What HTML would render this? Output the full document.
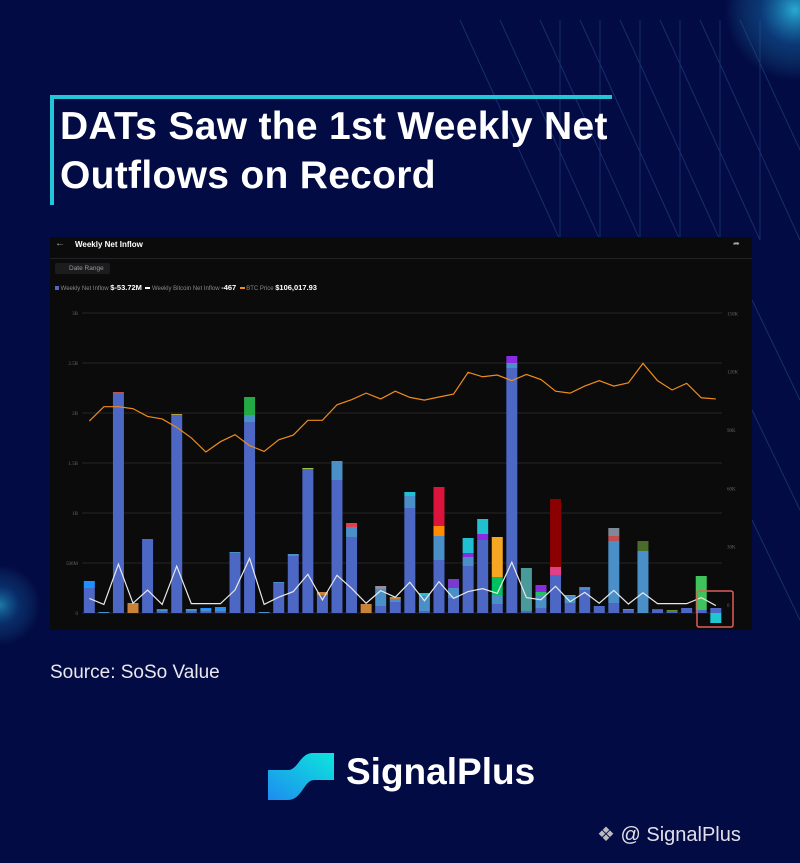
<!DOCTYPE html>
<html><head><meta charset="utf-8"><style>
html,body{margin:0;padding:0}
body{width:800px;height:863px;overflow:hidden;position:relative;background:#040c45;font-family:"Liberation Sans",sans-serif}
.abs{position:absolute}
</style></head><body>
<svg class="abs" style="left:0;top:0" width="800" height="863">
<defs>
<radialGradient id="g1" cx="0.5" cy="0.5" r="0.5"><stop offset="0" stop-color="#2fc6ea" stop-opacity="0.85"/><stop offset="0.5" stop-color="#1a8ad0" stop-opacity="0.35"/><stop offset="1" stop-color="#2fc6ea" stop-opacity="0"/></radialGradient>
</defs>
<rect width="800" height="863" fill="#030b44"/>
<circle cx="795" cy="10" r="70" fill="url(#g1)"/>
<circle cx="0" cy="605" r="40" fill="url(#g1)" opacity="0.7"/>
<g stroke="#2a5a9a" stroke-width="1" opacity="0.45" fill="none">
<path d="M460 20 L560 240 M500 20 L600 240 M540 20 L640 240 M580 20 L680 240 M620 20 L720 240 M660 20 L760 240 M700 20 L800 240 M740 20 L800 150"/>
<path d="M560 20 V240 M600 20 V240 M640 20 V240 M680 20 V240 M720 20 V240 M760 20 V240"/>
<path d="M752 300 L800 400 M752 410 L800 510 M752 520 L800 620"/>
</g>
<path d="M52 205 V97 H612" stroke="#22c6d6" stroke-width="4" fill="none"/>
</svg>
<div class="abs" style="left:60px;top:102px;color:#fff;font-weight:bold;font-size:39px;line-height:49px;letter-spacing:0.3px">DATs Saw the 1st Weekly Net<br>Outflows on Record</div>

<div class="abs" style="left:50px;top:237px;width:702px;height:393px;background:#0b0b0c"></div>
<div class="abs" style="left:55px;top:238px;color:#aaa;font-size:10px">←</div>
<div class="abs" style="left:75px;top:240px;color:#fff;font-size:8px;font-weight:bold">Weekly Net Inflow</div>
<div class="abs" style="left:733px;top:239px;color:#aaa;font-size:8px">➦</div>
<div class="abs" style="left:50px;top:258px;width:702px;height:1px;background:#222"></div>
<div class="abs" style="left:55px;top:263px;width:55px;height:11px;background:#1c1c1e;border-radius:2px;color:#999;font-size:6.5px;line-height:11px;text-indent:14px">Date Range</div>
<div class="abs" style="left:55px;top:283px;color:#888;font-size:6px;white-space:nowrap">
<span><span style="display:inline-block;width:4px;height:4px;background:#4d67c4"></span> Weekly Net Inflow <b style="color:#fff;font-size:7.5px">$-53.72M</b></span>
&nbsp;<span><span style="display:inline-block;width:5px;height:2px;background:#fff;vertical-align:middle"></span> Weekly Bitcoin Net Inflow <b style="color:#fff;font-size:7.5px">-467</b></span>
&nbsp;<span><span style="display:inline-block;width:5px;height:2px;background:#f08c1a;vertical-align:middle"></span> BTC Price <b style="color:#fff;font-size:7.5px">$106,017.93</b></span>
</div>

<svg id="chart" class="abs" style="left:0;top:0" width="800" height="863"></svg>
<script>
const leftTicks=[0,0.5,1,1.5,2,2.5,3];
const leftTickLabels=["0","500M","1B","1.5B","2B","2.5B","3B"];
const rightTicks=[0,30,60,90,120,150];
const rightTickLabels=["0","30K","60K","90K","120K","150K"];
const baseVals=[.25,0,2.19,0,.74,.02,1.98,.02,.02,.02,.6,1.91,0,.30,.57,1.44,.18,1.33,.76,0,.07,.11,1.05,.02,.53,.15,.47,.73,.09,2.45,.02,.05,.38,.1,.23,.07,.1,.03,0,.03,.02,.05,.03,.05];
const lightVals=[0,.01,0,0,0,.01,0,.02,.02,.02,0,.07,.01,.01,.01,0,0,.19,.1,0,.17,.03,.12,.15,.24,.1,.09,0,.09,.05,0,.12,0,.07,.02,0,.62,0,.62,0,0,0,0,0];
const seg3Vals=[.07,0,.02,.1,0,.01,.01,0,.01,.02,.01,.18,0,0,.01,.01,.03,0,.04,.09,.03,.02,.04,.03,.1,.09,.04,.06,.18,.07,.43,.04,.08,.01,.01,0,.05,.01,.1,.01,.01,0,.34,0];
const seg3Colors=["#1e90ff","#fff","#c0504d","#c8833a","#fff","#c0504d","#b5a040","#fff","#1e90ff","#1e90ff","#4a8fc7","#22aa44","#fff","#fff","#4a8fc7","#a0c040","#c8833a","#fff","#e04050","#c8833a","#9090a0","#c8833a","#20c0d0","#20c0d0","#ff8c00","#7a3ad0","#8a2be2","#8a2be2","#00c060","#8a2be2","#4a9a9a","#20c060","#e0408a","#c8833a","#e0408a","#fff","#c05050","#4a8fc7","#4a6b2a","#8a2be2","#6b8e23","#fff","#3ec45a","#fff"];
const seg4Vals=[0,0,0,0,0,0,0,0,0,0,0,0,0,0,0,0,0,0,0,0,0,0,0,0,.39,0,.15,.15,.4,0,0,.07,.68,0,0,0,.08,0,0,0,0,0,0,0];
const seg4Colors=["","","","","","","","","","","","","","","","","","","","","","","","","#dc143c","","#20c0d0","#20c0d0","#f5a623","","","#8a2be2","#8b0000","","","","#808898","","","","","","",""];
const negVals=[0,0,0,0,0,0,0,0,0,0,0,0,0,0,0,0,0,0,0,0,0,0,0,0,0,0,0,0,0,0,0,0,0,0,0,0,0,0,0,0,0,0,0,-0.1];
const btcPrice=[94.6,102,102,101,97,95.7,91.4,86,78.7,84,87.6,82,79,85,87.4,95,95,103,105.6,109,106,110,106.8,105.4,107,108.5,119.7,117.4,118.3,115.4,118.6,116,110,109,112.6,115.4,112.6,114.3,124.3,115.4,110.6,114,106.6,106];
const btcInflow=[3.4,0.3,21,0.9,7.7,0.3,20,0.7,0.7,0.7,7.7,24,0.3,4,6.9,15.8,2.6,15.3,8.6,0.9,7.4,4,11.7,2.2,12,3.4,6.9,8.4,6,22,3.8,2.7,9.6,1.7,6.5,0.9,7.5,0.5,6.3,0.7,0.7,0.7,3.8,-0.3];

const svg=document.getElementById('chart');
const NS='http://www.w3.org/2000/svg';
const x0=89.3, step=14.57, bw=11;
const xC=i=>x0+i*step;
const yL=v=>613-v*100;
const yR=k=>605-k*1.944;
function mk(t,a){const e=document.createElementNS(NS,t);for(const k in a)e.setAttribute(k,a[k]);svg.appendChild(e);return e;}
leftTicks.forEach((v,i)=>{
  const g=mk('line',{x1:82,x2:722,y1:yL(v),y2:yL(v),stroke:'#242424','stroke-width':1});
  
  
  const t=mk('text',{x:78,y:yL(v)+2,'text-anchor':'end',fill:'#666','font-size':5,'font-family':'Liberation Serif, serif'});
  t.textContent=leftTickLabels[i];
  
  
});
rightTicks.forEach((v,i)=>{
  const t=mk('text',{x:727,y:yR(v)+2,fill:'#666','font-size':5,'font-family':'Liberation Serif, serif'});
  t.textContent=rightTickLabels[i];
  
  
});
baseVals.forEach((b,i)=>{
  let acc=0;
  const segs=[[b,'#4d67c4'],[lightVals[i],'#4a8fc7'],[seg3Vals[i],seg3Colors[i]],[seg4Vals[i],seg4Colors[i]]];
  segs.forEach(([v,c])=>{
    if(v<=0)return;
    const r=mk('rect',{x:xC(i)-bw/2,y:yL(acc+v),width:bw,height:Math.max(0.8,v*100),fill:c});
    
    
    acc+=v;
  });
  if(negVals[i]<0){
    const r=mk('rect',{x:xC(i)-bw/2,y:yL(0),width:bw,height:-negVals[i]*100,fill:'#1fc8d0'});
    
    
  }
});
const p1=mk('polyline',{points:btcPrice.map((v,i)=>xC(i)+','+yR(v)).join(' '),fill:'none',stroke:'#f08c1a','stroke-width':1.2});


const p2=mk('polyline',{points:btcInflow.map((v,i)=>xC(i)+','+yR(v)).join(' '),fill:'none',stroke:'#e8e8e8','stroke-width':1.2});


const hl=mk('rect',{x:697,y:591,width:36,height:36,rx:2,fill:'none',stroke:'#e0605a','stroke-width':1.5});


</script>

<div class="abs" style="left:50px;top:662px;color:#e8e8ee;font-size:19px">Source: SoSo Value</div>

<svg class="abs" style="left:268px;top:750px" width="66" height="50">
<defs><linearGradient id="lg2" x1="0" y1="1" x2="1" y2="0"><stop offset="0" stop-color="#1e8cf0"/><stop offset="1" stop-color="#0de6dc"/></linearGradient></defs>
<path d="M0 20 H20 C30 20 32 3 45 3 H66 V30 H46 C36 30 34 50 20 50 H0 Z" fill="url(#lg2)"/>
</svg>
<div class="abs" style="left:346px;top:751px;color:#fff;font-weight:bold;font-size:37px">SignalPlus</div>
<div class="abs" style="left:597px;top:822px;color:#e0e0e8;font-size:20px;white-space:nowrap"><span style="color:#bbb">❖</span> @ SignalPlus</div>
</body></html>
